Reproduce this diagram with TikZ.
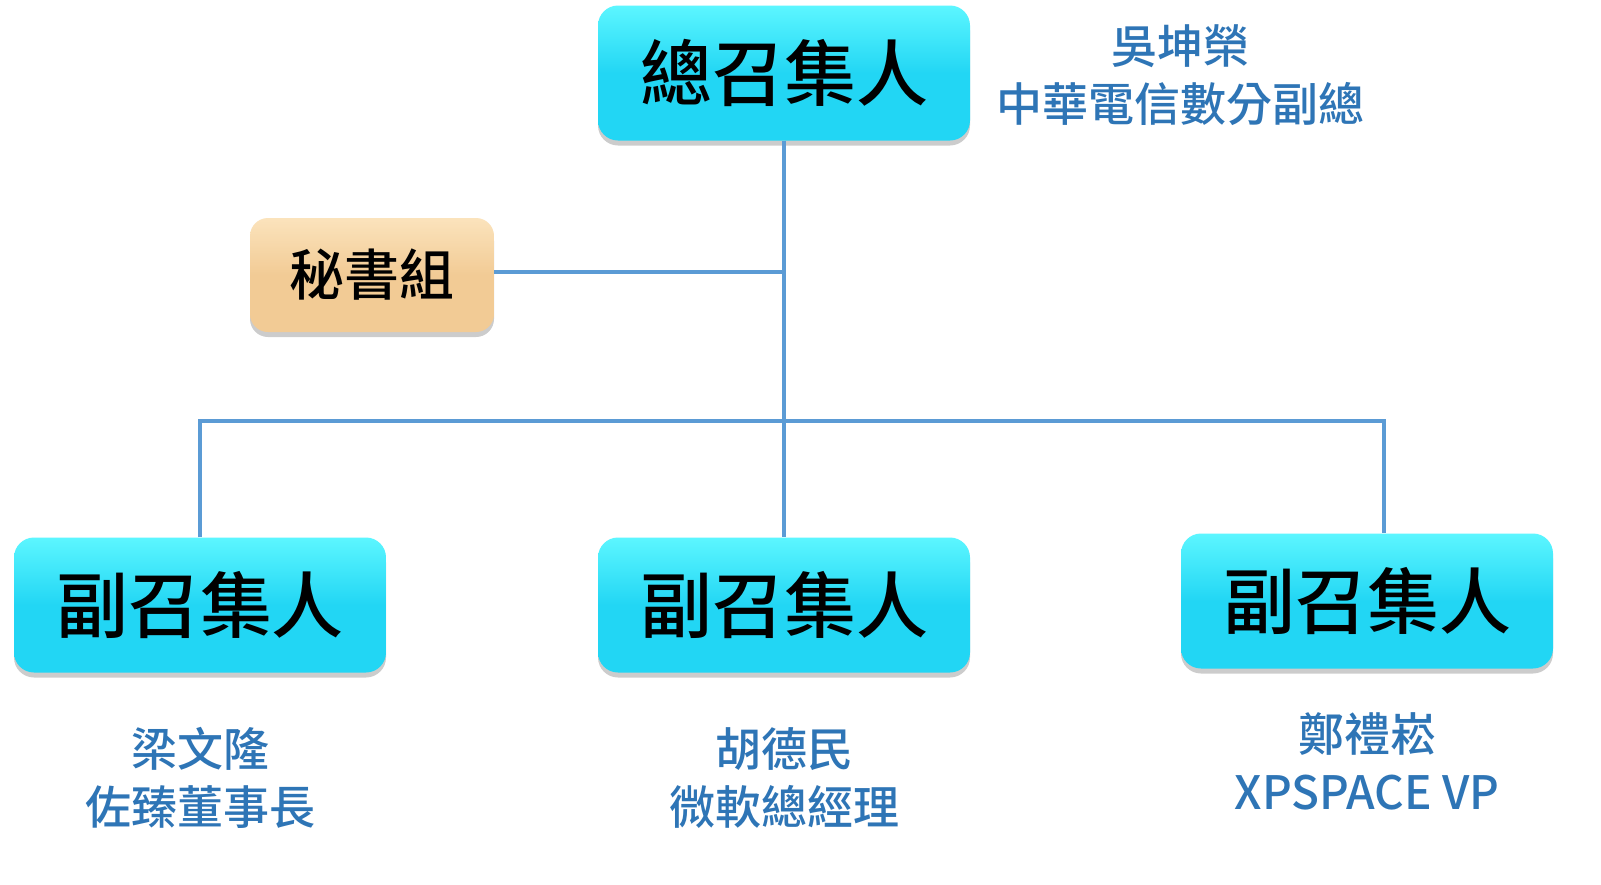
\documentclass[tikz,border=0pt]{standalone}
\usepackage{fontspec}
\IfFontExistsTF{Noto Sans CJK TC Medium}
  {\newfontfamily\cjk{Noto Sans CJK TC Medium}}
  {\newfontfamily\cjk{Noto Sans CJK TC}}
\usetikzlibrary{shadows}
\definecolor{cyanmain}{HTML}{22D6F4}
\definecolor{cyantop}{HTML}{5CF6FF}
\definecolor{orgmain}{HTML}{F2CB95}
\definecolor{orgtop}{HTML}{FBE3BC}
\definecolor{linec}{HTML}{5B9BD5}
\definecolor{namec}{HTML}{2E75B6}
\tikzset{
  cyanbox/.style={rounded corners=20pt, minimum width=372pt, minimum height=135pt,
    top color=cyantop, bottom color=cyanmain, middle color=cyanmain,
    drop shadow={opacity=0.2, shadow xshift=0pt, shadow yshift=-5pt, fill=black},
    font=\cjk\fontsize{72}{80}\selectfont, text=black, inner sep=0pt},
  orgbox/.style={rounded corners=18pt, minimum width=244pt, minimum height=114pt,
    top color=orgtop, bottom color=orgmain, middle color=orgmain,
    drop shadow={opacity=0.2, shadow xshift=0pt, shadow yshift=-5pt, fill=black},
    font=\cjk\fontsize{55}{60}\selectfont, text=black, inner sep=0pt},
  namelbl/.style={font=\cjk\fontsize{46}{58}\selectfont, text=namec, align=center, inner sep=0pt},
  conn/.style={draw=linec, line width=4pt}
}
\begin{document}
\begin{tikzpicture}[x=1pt,y=-1pt]
\useasboundingbox (0,0) rectangle (1601,884);
\fill[white] (0,0) rectangle (1601,884);
\coordinate (bar) at (784,421);
\coordinate (secj) at (784,272);
\node[cyanbox] (top) at (784,73) {總召集人};
\node[orgbox] (sec) at (372,275) {秘書組};
\node[cyanbox] (left) at (200,605) {副召集人};
\node[cyanbox] (mid) at (784,605) {副召集人};
\node[cyanbox] (right) at (1367,601) {副召集人};
\coordinate (rtop) at ([xshift=17pt]right.north);
\draw[conn] (top.south) -- (mid.north);
\draw[conn] (sec.east |- secj) -- (secj);
\draw[conn] (left.north) -- (left.north |- bar) -- (bar -| rtop) -- (rtop);
\node[namelbl] (n0) at (1180,75) {吳坤榮\\中華電信數分副總};
\node[namelbl] (n1) at (200,778) {梁文隆\\佐臻董事長};
\node[namelbl] (n2) at (784,778) {胡德民\\微軟總經理};
\node[namelbl] (n3) at (1367,761) {鄭禮崧\\XPSPACE VP};
\end{tikzpicture}
\end{document}
